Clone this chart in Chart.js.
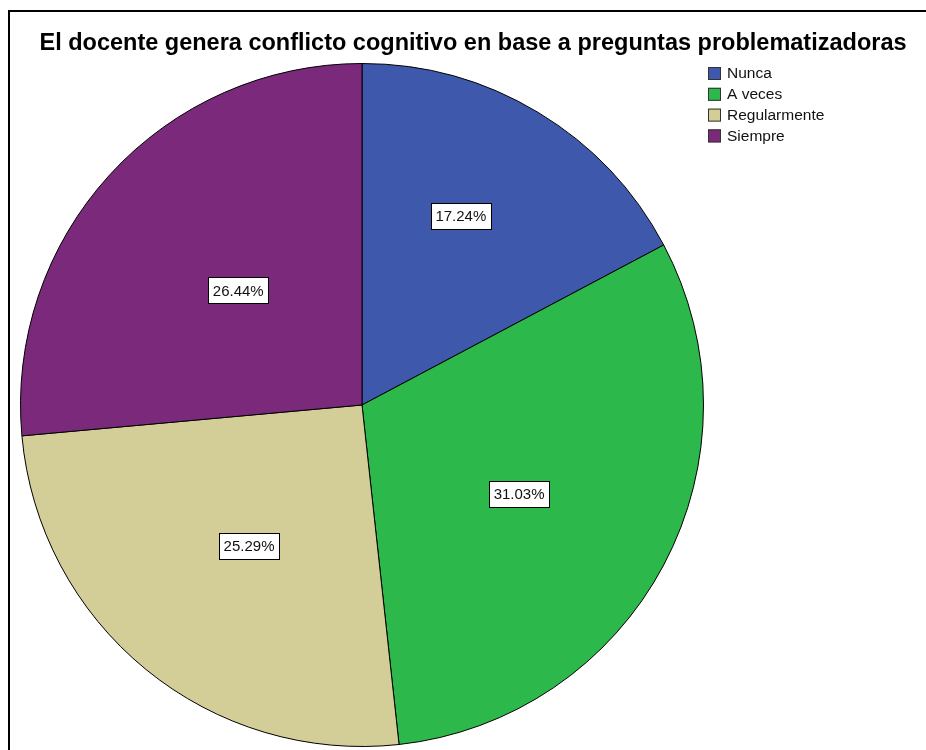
<!DOCTYPE html>
<html>
<head>
<meta charset="utf-8">
<script src="https://cdn.jsdelivr.net/npm/chart.js@4/dist/chart.umd.min.js"></script>
<style>
  html, body { margin: 0; padding: 0; background: #fff; }
  #wrap { width: 926px; height: 750px; position: relative; }
</style>
</head>
<body>
<div id="wrap"><canvas id="pieChart" width="926" height="750"></canvas></div>
<script>
// Datos del gráfico
const chartTitle = 'El docente genera conflicto cognitivo en base a preguntas problematizadoras';
const categories = ['Nunca', 'A veces', 'Regularmente', 'Siempre'];
const percentages = [17.24, 31.03, 25.29, 26.44];
const sliceColors = ['#3E58AC', '#2DB84B', '#D3CE97', '#7B2A7B'];

const FONT = '"Liberation Sans", Arial, sans-serif';
// posición de las etiquetas: fracción del radio y ajuste de ángulo (grados)
const labelRadius = [0.624, 0.528, 0.528, 0.494];
const labelTurn = [-3.4, 1.5, -0.5, 0.4];

// Marco, título, leyenda y etiquetas dibujadas a mano (estilo SPSS)
const spssDecor = {
    id: 'spssDecor',
    beforeDraw(chart) {
        const ctx = chart.ctx;
        ctx.save();
        ctx.strokeStyle = '#000';
        ctx.lineWidth = 2;
        ctx.beginPath();
        ctx.moveTo(9, 760);
        ctx.lineTo(9, 11);
        ctx.lineTo(940, 11);
        ctx.stroke();
        ctx.restore();
    },
    afterDraw(chart) {
        const ctx = chart.ctx;
        ctx.save();

        // título
        ctx.fillStyle = '#000';
        ctx.font = 'bold 23.5px ' + FONT;
        ctx.textAlign = 'center';
        ctx.textBaseline = 'middle';
        ctx.fillText(chartTitle, 473, 44);

        // leyenda
        ctx.font = '15.5px ' + FONT;
        ctx.textAlign = 'left';
        categories.forEach((cat, i) => {
            const y = 67 + i * 20.8;
            ctx.fillStyle = sliceColors[i];
            ctx.fillRect(708, y, 13, 13);
            ctx.strokeStyle = '#333';
            ctx.lineWidth = 1;
            ctx.strokeRect(708.5, y + 0.5, 12, 12);
            ctx.fillStyle = '#111';
            ctx.fillText(cat, 727, y + 7);
        });

        // etiquetas de porcentaje
        const meta = chart.getDatasetMeta(0);
        ctx.font = '15px ' + FONT;
        ctx.textAlign = 'center';
        meta.data.forEach((arc, i) => {
            const p = arc.getProps(['x', 'y', 'startAngle', 'endAngle', 'outerRadius'], true);
            const mid = (p.startAngle + p.endAngle) / 2 + labelTurn[i] * Math.PI / 180;
            const r = p.outerRadius * labelRadius[i];
            const cx = p.x + Math.cos(mid) * r;
            const cy = p.y + Math.sin(mid) * r;
            const txt = percentages[i].toFixed(2) + '%';
            const w = Math.round(ctx.measureText(txt).width + 9);
            const h = 26;
            const bx = Math.round(cx - w / 2), by = Math.round(cy - h / 2);
            ctx.fillStyle = '#fff';
            ctx.fillRect(bx, by, w, h);
            ctx.strokeStyle = '#000';
            ctx.lineWidth = 1;
            ctx.strokeRect(bx + 0.5, by + 0.5, w, h);
            ctx.fillStyle = '#111';
            ctx.fillText(txt, cx, cy + 1);
        });
        ctx.restore();
    }
};

const pie = new Chart(document.getElementById('pieChart').getContext('2d'), {
    type: 'pie',
    data: {
        labels: categories,
        datasets: [{
            data: percentages,
            backgroundColor: sliceColors,
            borderColor: '#000',
            borderWidth: 1
        }]
    },
    options: {
        responsive: false,
        animation: false,
        layout: {
            padding: { left: 20, top: 63, right: 222, bottom: 3 }
        },
        plugins: {
            legend: { display: false },
            title: { display: false },
            tooltip: { enabled: false }
        }
    },
    plugins: [spssDecor]
});
</script>
</body>
</html>
